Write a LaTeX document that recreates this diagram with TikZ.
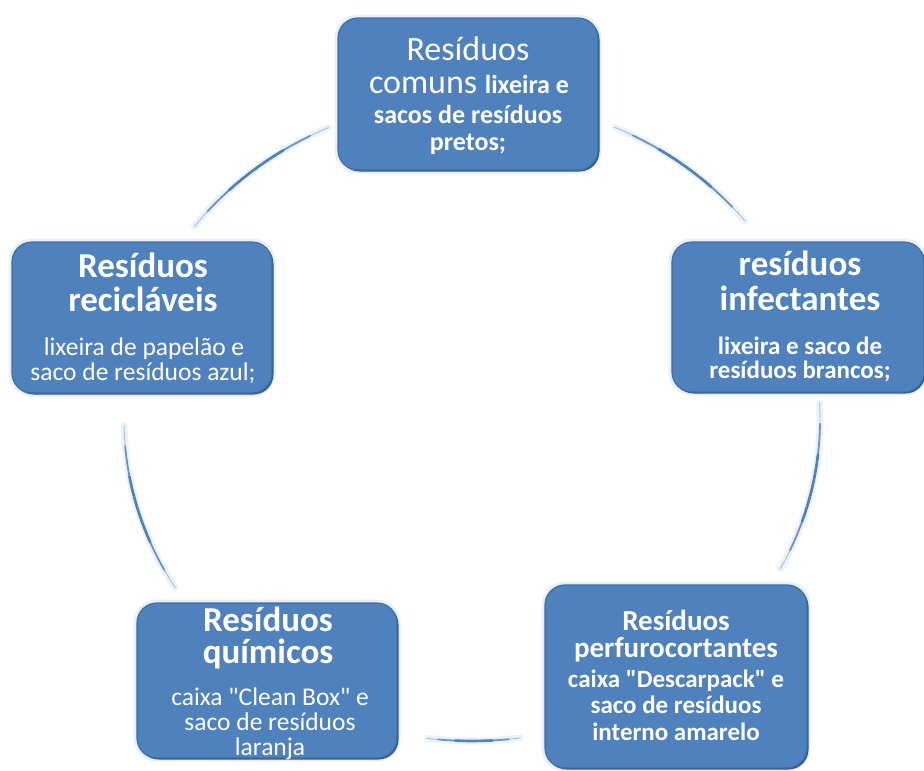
\documentclass[tikz,border=0pt]{standalone}
\usepackage{fontspec}
\setmainfont{Carlito}[Ligatures=TeXOff]
\definecolor{boxblue}{HTML}{4F81BD}
\definecolor{boxedge}{HTML}{3F6DA5}
\definecolor{boxdark}{HTML}{2F5A93}
\definecolor{glowc}{HTML}{DCE6F2}
\newcommand\cyclearc[2]{%
  \pgfmathsetmacro\arcspan{#2-#1}%
  \pgfmathsetmacro\arcaa{#1+0.12*\arcspan}%
  \pgfmathsetmacro\arcab{#2-0.12*\arcspan}%
  \pgfmathsetmacro\arcba{#1+0.30*\arcspan}%
  \pgfmathsetmacro\arcbb{#2-0.30*\arcspan}%
  \draw[arcglow] ([shift={(#1:348 and 321)}]ctr) arc[start angle=#1, end angle=#2, x radius=348, y radius=321];
  \draw[arcthin] ([shift={(#1:348 and 321)}]ctr) arc[start angle=#1, end angle=#2, x radius=348, y radius=321];
  \draw[arcmid] ([shift={(\arcaa:348 and 321)}]ctr) arc[start angle=\arcaa, end angle=\arcab, x radius=348, y radius=321];
  \draw[arcthick] ([shift={(\arcba:348 and 321)}]ctr) arc[start angle=\arcba, end angle=\arcbb, x radius=348, y radius=321];
}
\begin{document}
\begin{tikzpicture}[x=1pt,y=-1pt,
  box/.style={draw=boxedge, line width=1.2pt, fill=boxblue, rounded corners=20pt, inner sep=0pt,
    preaction={draw=glowc, line width=7pt, opacity=0.6},
    preaction={fill=boxdark, transform canvas={xshift=1.5pt, yshift=-1.5pt}}},
  ttl/.style={text=white, anchor=base, inner sep=0pt, font=\fontsize{35}{35}\selectfont\bfseries},
  ttlsm/.style={text=white, anchor=base, inner sep=0pt, font=\fontsize{29}{29}\selectfont\bfseries},
  ttlreg/.style={text=white, anchor=base, inner sep=0pt, font=\fontsize{34}{34}\selectfont},
  bodyb/.style={text=white, anchor=base, inner sep=0pt, font=\fontsize{25}{25}\selectfont\bfseries},
  bodyr/.style={text=white, anchor=base, inner sep=0pt, font=\fontsize{25.5}{25.5}\selectfont},
  arcglow/.style={draw=glowc, line width=7pt, opacity=0.5, line cap=round},
  arcthin/.style={draw=boxblue!55, line width=0.8pt, line cap=round},
  arcmid/.style={draw=boxblue!85, line width=1.8pt, line cap=round},
  arcthick/.style={draw=boxblue, line width=2.6pt, line cap=round}
]
\useasboundingbox (0,0) rectangle (924,771);
\fill[white] (0,0) rectangle (924,771);
\coordinate (ctr) at (472,420);

% connectors (arcs of the cycle)
\cyclearc{-65.8}{-38.3}
\cyclearc{-3}{27.6}
\cyclearc{82.1}{97.4}
\cyclearc{148.5}{179}
\cyclearc{217.1}{245.7}

% boxes
\node[box, minimum width=260pt, minimum height=152pt] (top) at (468,94) {};
\node[box, minimum width=260pt, minimum height=151pt] (left) at (142,317.5) {};
\node[box, minimum width=252pt, minimum height=150pt] (right) at (798,317) {};
\node[box, minimum width=260pt, minimum height=155pt] (bl) at (267,680.5) {};
\node[box, minimum width=262pt, minimum height=183pt] (br) at (676,676.5) {};

% top box text
\node[ttlreg] (top1) at (468,60) {Resíduos};
\node[ttlreg] (top2) at (469,93) {comuns {\bfseries\fontsize{26}{26}\selectfont lixeira e}};
\node[bodyb, font=\fontsize{26}{26}\selectfont\bfseries] (top3) at (468,123) {sacos de resíduos};
\node[bodyb, font=\fontsize{26}{26}\selectfont\bfseries] (top4) at (468,150) {pretos;};

% left box text
\node[ttl] (left1) at (143,277) {Resíduos};
\node[ttl] (left2) at (143,311) {recicláveis};
\node[bodyr] (left3) at (144,355) {lixeira de papelão e};
\node[bodyr] (left4) at (143,380) {saco de resíduos azul;};

% right box text
\node[ttl] (right1) at (800,275) {resíduos};
\node[ttl] (right2) at (800,310) {infectantes};
\node[bodyb] (right3) at (800,354) {lixeira e saco de};
\node[bodyb] (right4) at (800,378) {resíduos brancos;};

% bottom-left box text
\node[ttl] (bl1) at (268,631) {Resíduos};
\node[ttl] (bl2) at (268,663) {químicos};
\node[bodyr] (bl3) at (270,705) {caixa "Clean Box" e};
\node[bodyr] (bl4) at (270,730) {saco de resíduos};
\node[bodyr] (bl5) at (270,755) {laranja};

% bottom-right box text
\node[ttlsm] (br1) at (676,630) {Resíduos};
\node[ttlsm] (br2) at (676,657) {perfurocortantes};
\node[bodyb] (br3) at (676,687) {caixa "Descarpack" e};
\node[bodyb] (br4) at (676,713) {saco de resíduos};
\node[bodyb] (br5) at (676,740) {interno amarelo};
\end{tikzpicture}
\end{document}
